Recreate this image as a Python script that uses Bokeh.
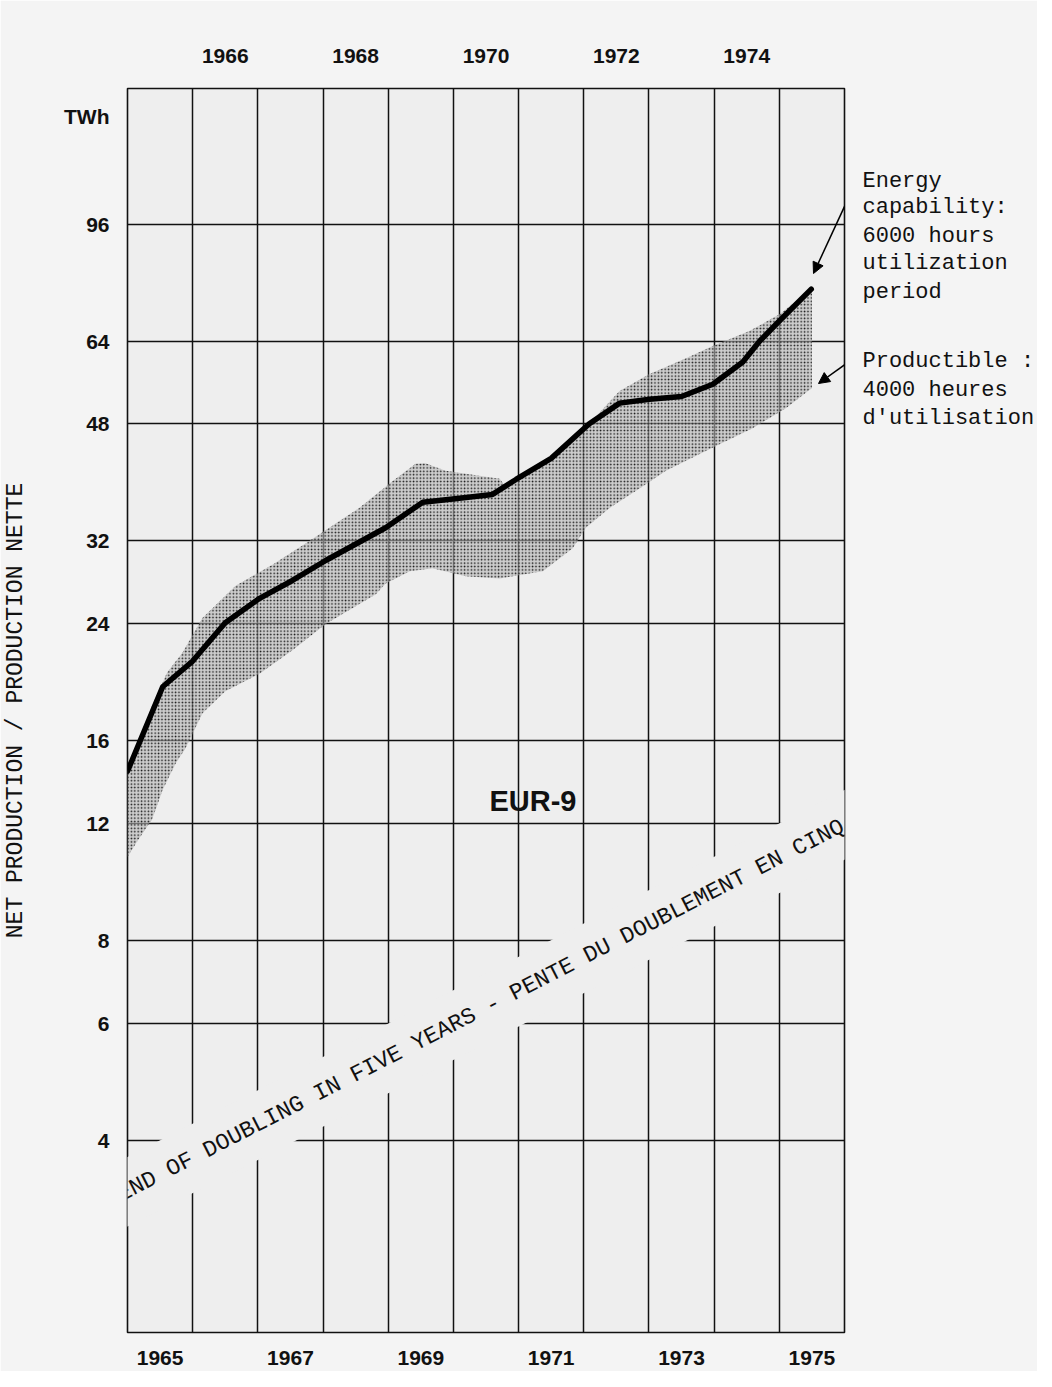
from bokeh.plotting import figure
from bokeh.models import Range1d, FixedTicker, LinearAxis, LogAxis, Label, Arrow, NormalHead
from bokeh.embed import file_html
from bokeh.resources import INLINE

# ---------------- data ----------------
line_years = [1964.5, 1965.04, 1965.5, 1966.0, 1966.52, 1967.03, 1967.54, 1968.46, 1969.03,
              1969.49, 1970.1, 1970.46, 1971.0, 1971.58, 1972.05, 1972.51, 1973.0, 1973.48,
              1973.94, 1974.2, 1974.5, 1974.99]
line_twh = [14.4, 19.3, 21.1, 24.1, 26.2, 27.9, 29.9, 33.5, 36.6,
            37.0, 37.6, 39.6, 42.6, 48.0, 51.6, 52.3, 52.8, 55.1,
            59.5, 64.0, 68.6, 76.6]

band_upper_years = [1964.5, 1964.88, 1965.11, 1965.34, 1965.65, 1966.16, 1966.73, 1967.29, 1968.06,
                    1968.57, 1968.92, 1969.07, 1969.38, 1969.69, 1970.21, 1970.3, 1970.46, 1971.0,
                    1971.58, 1972.05, 1972.51, 1973.07, 1973.48, 1974.05, 1974.51, 1975.0]
band_upper_twh = [14.4, 18.1, 20.3, 21.7, 24.5, 27.4, 29.5, 32.0, 35.9,
                  39.4, 41.8, 41.9, 40.8, 40.4, 39.7, 38.6, 39.6, 42.6,
                  48.0, 53.8, 57.1, 60.3, 62.9, 66.3, 70.3, 76.8]
band_lower_years = [1975.0, 1974.6, 1974.09, 1973.59, 1973.06, 1972.76, 1972.36, 1971.9, 1971.53,
                    1971.33, 1970.87, 1970.21, 1969.69, 1969.18, 1968.83, 1968.46, 1968.31, 1967.54,
                    1967.03, 1966.53, 1966.0, 1965.65, 1965.39, 1965.24, 1965.04, 1964.88, 1964.65, 1964.5]
band_lower_twh = [54.4, 50.7, 47.3, 44.8, 42.2, 40.8, 38.4, 35.9, 33.5,
                  31.2, 28.8, 28.1, 28.3, 29.1, 28.8, 27.6, 26.6, 24.0,
                  21.9, 20.2, 19.0, 17.6, 15.6, 14.8, 13.5, 12.2, 11.3, 10.7]

y_ticks = [4, 6, 8, 12, 16, 24, 32, 48, 64, 96]
unit_label = "TWh"
unit_label_pos = 139.6
top_years = [1966, 1968, 1970, 1972, 1974]
bottom_years = [1965, 1967, 1969, 1971, 1973, 1975]
grid_years = [1964.5 + i for i in range(12)]

# right-hand notes (one text line per entry, placed at these TWh levels)
note_lines = ["Energy", "capability:", "6000 hours", "utilization", "period",
              "Productible :", "4000 heures", "d'utilisation"]
note_levels = [111.4, 101.5, 92.1, 83.6, 75.8, 59.7, 54.0, 49.0]

# ---------------- figure ----------------
PLOT_BG = "#eeeeee"
INK = "#111111"
MONO = "Liberation Mono"
SANS = "Liberation Sans"

p = figure(width=1036, height=1371, frame_width=717, frame_height=1244,
           x_range=Range1d(1964.5, 1975.5), y_range=Range1d(2.057, 153.6),
           y_axis_type="log", x_axis_location=None,
           output_backend="svg", toolbar_location=None,
           min_border_left=127, min_border_right=192, min_border_top=88, min_border_bottom=39)
p.background_fill_color = PLOT_BG
p.border_fill_color = "#f4f4f4"
p.outline_line_color = INK
p.outline_line_width = 1.6

# grid
p.xgrid.ticker = FixedTicker(ticks=grid_years)
p.ygrid.ticker = FixedTicker(ticks=y_ticks)
for g in (p.xgrid, p.ygrid):
    g.grid_line_color = INK
    g.grid_line_width = 1.5
    g.grid_line_alpha = 1.0

# y axis (left) with the unit label as an extra tick label
ya = p.yaxis[0]
ya.ticker = FixedTicker(ticks=y_ticks + [unit_label_pos])
ov = {t: str(t) for t in y_ticks}
ov[unit_label_pos] = unit_label
ya.major_label_overrides = ov
ya.axis_line_color = None
ya.major_tick_line_color = None
ya.minor_tick_line_color = None
ya.major_label_text_font = SANS
ya.major_label_text_font_style = "bold"
ya.major_label_text_font_size = "21px"
ya.major_label_text_color = INK
ya.major_label_standoff = 12
ya.axis_label = "NET PRODUCTION / PRODUCTION NETTE"
ya.axis_label_text_font = MONO
ya.axis_label_text_font_style = "normal"
ya.axis_label_text_font_size = "23px"
ya.axis_label_text_color = INK
ya.axis_label_standoff = 32

# right axis used for the typed notes
ra = LogAxis(ticker=FixedTicker(ticks=note_levels))
ra.major_label_overrides = dict(zip(note_levels, note_lines))
ra.axis_line_color = None
ra.major_tick_line_color = None
ra.minor_tick_line_color = None
ra.major_label_text_font = MONO
ra.major_label_text_font_size = "22px"
ra.major_label_text_color = INK
ra.major_label_text_align = "left"
ra.major_label_standoff = 12
p.add_layout(ra, "right")

def year_axis(ticks, standoff):
    ax = LinearAxis(ticker=FixedTicker(ticks=ticks))
    ax.major_label_overrides = {t: str(t) for t in ticks}
    ax.axis_line_color = None
    ax.major_tick_line_color = None
    ax.minor_tick_line_color = None
    ax.major_label_text_font = SANS
    ax.major_label_text_font_style = "bold"
    ax.major_label_text_font_size = "21px"
    ax.major_label_text_color = INK
    ax.major_label_standoff = standoff
    return ax

p.add_layout(year_axis(top_years, 20), "above")
p.add_layout(year_axis(bottom_years, 12), "below")

# diagonal trend text (with background that interrupts the grid)
p.add_layout(Label(x=366, y=328, x_units="screen", y_units="screen",
                   text="- TREND OF DOUBLING IN FIVE YEARS - PENTE DU DOUBLEMENT EN CINQ ANS -",
                   angle=27.1, angle_units="deg", text_align="center", text_baseline="middle",
                   text_font=MONO, text_font_size="23px", text_color=INK,
                   background_fill_color=PLOT_BG, padding=18))

# band
band_x = band_upper_years + band_lower_years
band_y = band_upper_twh + band_lower_twh
p.patch(band_x, band_y, fill_color="#b8b8b8", fill_alpha=0.6, line_color=None,
        hatch_pattern="dot", hatch_color="#1a1a1a", hatch_scale=3.4, hatch_weight=2.0)

# main line
p.line(line_years, line_twh, line_color="black", line_width=5.5, line_join="round", line_cap="round")

# centre label
p.add_layout(Label(x=1970.72, y=13.0, text="EUR-9", text_align="center", text_baseline="middle",
                   text_font=SANS, text_font_style="bold", text_font_size="29px", text_color=INK))

# arrows from the notes
p.add_layout(Arrow(end=NormalHead(size=11, fill_color="black", line_color="black"),
                   x_start=729, y_start=1152, x_end=686, y_end=1059,
                   start_units="screen", end_units="screen",
                   line_color="black", line_width=1.5))
p.add_layout(Arrow(end=NormalHead(size=11, fill_color="black", line_color="black"),
                   x_start=730, y_start=977, x_end=691, y_end=949,
                   start_units="screen", end_units="screen",
                   line_color="black", line_width=1.5))

open("out.html", "w").write(file_html(p, INLINE))
